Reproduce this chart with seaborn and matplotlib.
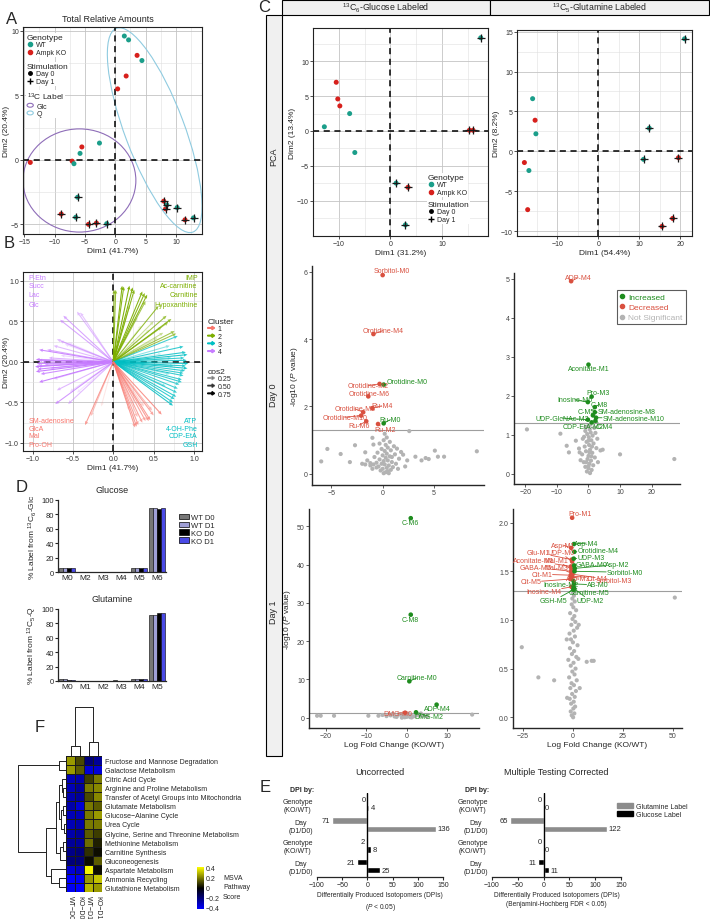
import numpy as np
import pandas as pd
import seaborn as sns
import matplotlib.pyplot as plt
import matplotlib.patches as mpatches
from matplotlib.lines import Line2D
from matplotlib.legend_handler import HandlerPatch
from matplotlib.colors import LinearSegmentedColormap, to_rgba
from matplotlib.transforms import Affine2D

sns.set_style("ticks")
plt.rcParams['font.family'] = ['Liberation Sans', 'DejaVu Sans']
plt.rcParams['mathtext.fontset'] = 'custom'
plt.rcParams['mathtext.rm'] = 'Liberation Sans'
plt.rcParams['mathtext.it'] = 'Liberation Sans:italic'
plt.rcParams['mathtext.bf'] = 'Liberation Sans:bold'

# ---------------- data ----------------
TEAL, RED = '#1b9e8a', '#d7201c'
geno_pal = {'WT': TEAL, 'Ampk KO': RED}

# A: total relative amounts PCA
a_x = [1.5, 2.2, 3.6, 4.4, 1.8, 0.4, -2.6, -5.5, -5.8, -7.1, -6.8, -14.0,
       -6.2, -8.9, -6.5, -4.4, -3.1, -1.4, 8.0, 8.3, 8.5, 10.2, 11.5, 12.9]
a_y = [9.6, 9.3, 8.1, 7.7, 6.5, 5.5, 1.3, 1.0, 0.5, -0.1, -0.3, -0.2,
       -2.9, -4.2, -4.45, -5.0, -4.9, -4.95, -3.2, -3.8, -3.5, -3.7, -4.65, -4.5]
a_geno = ['WT', 'WT', 'Ampk KO', 'WT', 'Ampk KO', 'Ampk KO', 'WT', 'Ampk KO', 'WT', 'Ampk KO', 'WT', 'Ampk KO',
          'WT', 'Ampk KO', 'WT', 'Ampk KO', 'Ampk KO', 'WT', 'Ampk KO', 'Ampk KO', 'WT', 'WT', 'Ampk KO', 'WT']
a_day = ['Day 0'] * 12 + ['Day 1'] * 12
# ellipses: centre, two semi-axis vectors (data units)
ell_glc = ((-5.9, -1.6), (9.3, 0.0), (0.0, 4.0))
ell_q = ((6.5, 2.3), (6.3, -7.9), (4.6, 0.8))

# B: variable loadings
b_x = [-0.45, -0.41, -0.62, -0.66, -0.70, -0.66, -0.60, -0.74, -0.56, -0.82, -0.92, -0.96, -0.93, -0.95, -0.97,
       -0.94, -0.96, -0.93, -0.88, -0.85, -0.80, -0.78, -0.90, -0.92, -0.74, -0.70, -0.54, -0.72, -0.56, -0.45,
       -0.65, -0.60, -0.55,
       0.01, 0.03, 0.11, 0.13, 0.20, 0.24, 0.26, 0.36, 0.39, 0.42, 0.40, 0.56, 0.66, 0.72, 0.68, 0.60, 0.76, 0.78,
       0.62, 0.50, 0.45, 0.30, 0.20, 0.55, 0.35,
       0.80, 0.87, 0.90, 0.92, 0.88, 0.91, 0.93, 0.90, 0.92, 0.89, 0.87, 0.87, 0.85, 0.85, 0.82, 0.80, 0.79, 0.78,
       0.76, 0.74, 0.74, 0.70, 0.72, 0.75, 0.70, 0.65, 0.60,
       -0.35, -0.28, 0.27, 0.29, 0.31, 0.36, 0.40, 0.44, 0.46, 0.50, 0.60, 0.48, 0.30, 0.20, -0.15, 0.38, 0.25]
b_y = [0.62, 0.61, 0.57, 0.52, 0.28, 0.26, 0.22, 0.20, 0.24, 0.15, 0.15, 0.03, 0.02, -0.02, -0.06,
       -0.09, -0.12, -0.05, 0.0, -0.03, 0.05, -0.08, -0.15, -0.25, -0.21, -0.35, -0.37, -0.52, -0.52, -0.38,
       0.08, 0.0, -0.1,
       0.89, 0.89, 0.94, 0.93, 0.94, 0.92, 0.89, 0.87, 0.85, 0.83, 0.75, 0.69, 0.57, 0.53, 0.49, 0.43, 0.38, 0.35,
       0.36, 0.50, 0.40, 0.55, 0.70, 0.30, 0.45,
       0.32, 0.19, 0.12, 0.09, 0.05, 0.02, -0.02, -0.05, -0.08, -0.11, -0.14, -0.17, -0.22, -0.25, -0.28, -0.33,
       -0.38, -0.43, -0.46, -0.50, -0.54, 0.20, 0.05, -0.05, -0.15, -0.30, 0.10,
       -0.78, -0.67, -0.81, -0.80, -0.78, -0.75, -0.73, -0.73, -0.72, -0.66, -0.65, -0.60, -0.68, -0.60, -0.55,
       -0.55, -0.50]
b_cluster = ['4'] * 33 + ['2'] * 25 + ['3'] * 27 + ['1'] * 17
cluster_pal = {'1': '#F8766D', '2': '#7CAE00', '3': '#00BFC4', '4': '#C77CFF'}
b_labels_tl = ['P-Etn', 'Succ', 'Lac', 'Glc']
b_labels_tr = ['IMP', 'Ac-carnitine', 'Carnitine', 'Hypoxanthine']
b_labels_bl = ['SM-adenosine', 'GlcA', 'Mal', 'Pro-OH']
b_labels_br = ['ATP', '4-OH-Phe', 'CDP-EtA', 'GSH']

# C: PCA per label
cg_x = [-12.8, -10.5, -10.2, -9.8, -7.9, -6.9, 17.5, 1.1, 2.9, 3.4, 15.3, 16.0]
cg_y = [0.6, 7.0, 4.6, 3.6, 2.5, -3.1, 13.4, -7.5, -13.5, -8.1, 0.1, 0.1]
cg_geno = ['WT', 'Ampk KO', 'Ampk KO', 'Ampk KO', 'WT', 'WT', 'WT', 'WT', 'WT', 'Ampk KO', 'Ampk KO', 'Ampk KO']
cq_x = [-16.0, -15.4, -15.2, -18.0, -16.9, -17.2, 21.0, 12.4, 11.0, 19.5, 15.5, 18.1]
cq_y = [6.6, 3.9, 2.2, -1.4, -2.4, -7.3, 14.1, 2.9, -1.0, -0.8, -9.4, -8.4]
cq_geno = ['WT', 'Ampk KO', 'WT', 'Ampk KO', 'WT', 'Ampk KO', 'WT', 'WT', 'WT', 'Ampk KO', 'Ampk KO', 'Ampk KO']
c_day = ['Day 0'] * 6 + ['Day 1'] * 6

# C: volcano plots (not significant)
v0g_x = [-6.0, -5.4, -4.1, -3.2, -2.7, -1.7, -1.0, -0.9, 0.2, 2.6, 2.0, 2.4, 3.2, 3.8, 4.2, 4.5, 5.1, 5.4, 6.0, 9.2,
         -2.0, -1.7, -1.2, -0.9, -0.6,
         0.1, 0.3, 0.5, -0.2, 0.8, 0.0, 0.4, 1.0, -0.4, 0.6, 0.2, 1.3, -0.6, 0.9, 0.1, 0.5, -0.3, 1.6, 0.3, -0.8,
         0.7, 0.0, 1.2, 0.4, -0.5, 1.8, 0.2, 0.8, -0.1, 0.5, 1.1, 0.3, -0.3, 0.7, 0.1, 0.4, -1.2, -1.5, 1.5, 2.2,
         -1.0, 0.6, -0.1, 0.9, 1.4]
v0g_y = [0.37, 0.74, 0.59, 0.35, 0.85, 0.64, 1.07, 0.87, 1.19, 1.27, 0.57, 0.40, 0.51, 0.40, 0.47, 0.44, 0.69, 0.51,
         0.51, 0.67, 0.30, 0.28, 0.32, 0.28, 0.19,
         0.02, 0.05, 0.08, 0.10, 0.12, 0.15, 0.18, 0.20, 0.22, 0.25, 0.28, 0.30, 0.33, 0.35, 0.38, 0.40, 0.43, 0.45,
         0.48, 0.50, 0.52, 0.55, 0.58, 0.60, 0.63, 0.65, 0.68, 0.70, 0.74, 0.78, 0.82, 0.86, 0.90, 0.95, 1.00, 1.08,
         0.25, 0.40, 0.15, 0.22, 0.15, 0.02, 0.30, 0.50, 0.75]
v0q_x = [0.5, -0.5, 1.0, 0.0, -1.0, 1.5, 0.3, -1.5, 0.8, -0.3, 2.0, 0.0, -2.0, 1.2, -0.8, 0.5, 2.5, -1.2, 0.2, 1.6,
         -0.6, 0.9, -1.8, 0.1, 1.3, -0.4, 0.7, -1.0, 0.4, 1.8, -0.2, 0.6, -2.5, 3.0, -3.0, 2.8, 0.0, 0.9, -0.7, 1.1,
         0.3, -1.4, 2.2, 0.0, -0.9,
         -19.5, -8.9, -6.9, -6.2, -2.8, 3.8, 10.0, 27.2, 4.5, -4.0]
v0q_y = [0.02, 0.06, 0.10, 0.14, 0.18, 0.22, 0.26, 0.30, 0.34, 0.38, 0.42, 0.46, 0.50, 0.54, 0.58, 0.62, 0.66, 0.70,
         0.74, 0.78, 0.82, 0.86, 0.90, 0.94, 0.98, 1.02, 1.06, 1.10, 1.14, 1.18, 1.22, 1.26, 0.35, 0.30, 0.65, 0.90,
         0.20, 0.45, 0.30, 0.70, 0.55, 0.95, 1.05, 0.85, 1.20,
         1.14, 1.03, 0.72, 0.55, 0.55, 0.60, 0.50, 0.38, 0.62, 0.85]
v1g_x = [-22.2, -21.3, -18.0, -9.5, -7.0, -5.0, -4.0, -3.0, -2.0, -1.0, 0.0, 1.0, 2.0, 3.0, 0.5, -0.5, 1.5, -1.5,
         4.0, -2.5, 2.5, 0.2, -0.8, 0.8, 16.2, 5.0, -6.0, -3.5, 3.5, 0.0, -1.2, 1.2]
v1g_y = [0.5, 0.5, 0.5, 0.5, 0.5, 0.4, 0.6, 0.3, 0.8, 0.5, 0.2, 0.7, 0.4, 0.6, 1.0, 0.1, 0.3, 0.9, 0.5, 0.2, 0.9,
         0.6, 0.35, 0.15, 0.8, 0.3, 0.7, 1.0, 1.1, 0.9, 0.0, 0.05]
v1q_x = [0.2, -0.5, 0.8, -1.0, 0.3, 1.2, -0.8, 0.5, -1.5, 1.0, -0.3, 1.6, -1.2, 0.6, -0.6, 2.0, -1.8, 0.9, -0.2,
         1.4, -1.0, 0.4, -2.2, 1.8, -0.4, 0.7, -1.4, 2.4, 0.1, -0.9, 1.1, -1.6, 0.5, 2.2, -0.7, 1.3, -0.1, 0.8,
         -1.3, 1.7, 0.3, -0.5, 1.0, -0.2, 0.6, 0.1,
         -25.5, -17.2, -9.3, 7.0, 9.5, 10.5, 51.1, 3.0, 2.8, -3.0, 3.5, -2.8]
v1q_y = [0.00, 0.02, 0.04, 0.06, 0.09, 0.11, 0.14, 0.16, 0.19, 0.21, 0.24, 0.27, 0.30, 0.33, 0.35, 0.38, 0.41,
         0.44, 0.47, 0.50, 0.53, 0.56, 0.59, 0.62, 0.65, 0.68, 0.71, 0.74, 0.77, 0.80, 0.83, 0.86, 0.89, 0.92,
         0.95, 0.98, 1.01, 1.04, 1.07, 1.10, 1.13, 1.16, 1.19, 1.22, 1.25, 1.28,
         0.72, 0.41, 0.38, 0.57, 0.58, 0.58, 1.23, 0.95, 0.60, 0.80, 0.30, 0.20]

# C: volcano plots (significant isotopomers)
s0g_name = ['Sorbitol-M0', 'Orotidine-M4', 'Orotidine-M2', 'Orotidine-M0', 'Orotidine-M6', 'Ru-M4',
            'Orotidine-M8', 'Orotidine-M10', 'Ru-M6', 'Ru-M2', 'Ru-M0']
s0g_x = [0.0, -0.9, -0.3, 0.1, -1.4, -1.0, -1.9, -2.1, -1.6, -0.45, 0.1]
s0g_y = [5.9, 4.15, 2.67, 2.65, 2.3, 1.95, 1.83, 1.73, 1.56, 1.48, 1.5]
s0g_dir = ['Decreased'] * 3 + ['Increased'] + ['Decreased'] * 6 + ['Increased']
s0q_name = ['ADP-M4', 'Aconitate-M1', 'Pro-M3', 'Inosine-M6', 'C-M8', 'C-M5', 'SM-adenosine-M8',
            'UDP-GlcNAc-M2', 'SM-adenosine-M10', 'CDP-EtA-M2', 'C-M4']
s0q_x = [-5.5, 0.0, 1.0, -0.2, 2.0, 1.4, 2.0, -0.2, 2.4, 1.0, 2.2]
s0q_y = [4.94, 2.8, 1.98, 1.84, 1.71, 1.5, 1.58, 1.39, 1.44, 1.32, 1.36]
s0q_dir = ['Decreased'] + ['Increased'] * 10
s1g_name = ['C-M6', 'C-M8', 'Carnitine-M0', 'ADP-M4', 'DMG-M2', 'DMG-M0']
s1g_x = [1.0, 1.0, 0.65, 7.4, 2.3, -0.4]
s1g_y = [52.1, 26.9, 9.5, 3.4, 1.4, 1.3]
s1g_dir = ['Increased'] * 5 + ['Decreased']
s1q_name = ['Pro-M1', 'Asp-M1', 'Glu-M1', 'UDP-M0', 'Aconitate-M1', 'Mal-M1', 'GABA-M5', 'Mal-M3', 'Cit-M1',
            'Asp-M3', 'Cit-M5', 'Cit-M4', 'Sorbitol-M3', 'Inosine-M4',
            'Asp-M4', 'Orotidine-M4', 'UDP-M3', 'GABA-M0', 'Asp-M2', 'Sorbitol-M0', 'Inosine-M2', 'AB-M0',
            'Carnitine-M5', 'GSH-M5', 'UDP-M2']
s1q_x = [-0.3, -0.8, -0.5, -0.3, -0.9, -0.6, -0.7, -0.4, -1.0, -0.5, -1.2, -0.3, -0.2, -0.6,
         0.6, 0.8, 0.5, 0.7, 1.0, 0.9, 0.4, 0.6, 0.5, 0.3, 0.8]
s1q_y = [2.05, 1.74, 1.62, 1.60, 1.55, 1.52, 1.50, 1.48, 1.46, 1.44, 1.42, 1.45, 1.47, 1.34,
         1.78, 1.70, 1.63, 1.56, 1.53, 1.50, 1.40, 1.37, 1.33, 1.31, 1.32]
s1q_dir = ['Decreased'] * 14 + ['Increased'] * 11

# label placement (repel-style offsets)
l0g = [(0.9, 6.03), (0.0, 4.25), (-1.4, 2.62), (2.4, 2.74), (-1.3, 2.39), (-0.1, 2.02), (-2.7, 1.93),
       (-3.7, 1.68), (-2.3, 1.45), (0.2, 1.31), (0.75, 1.61)]
l0q = [(-3.3, 5.03), (0.1, 2.71), (3.1, 2.08), (-4.3, 1.9), (3.4, 1.78), (-0.7, 1.6), (12.1, 1.6),
       (-8.4, 1.43), (14.2, 1.43), (-1.8, 1.22), (5.0, 1.22)]
l1g = [(0.8, 51.0), (0.8, 25.7), (2.5, 10.4), (7.7, 2.4), (5.4, 0.4), (-2.2, 1.2)]
l1q = [(3.4, 2.09), (-5.0, 1.77), (-17.0, 1.69), (-6.0, 1.69), (-19.5, 1.61), (-8.0, 1.61), (-18.5, 1.54),
       (-8.0, 1.54), (-15.5, 1.47), (3.0, 1.43), (-21.0, 1.39), (12.0, 1.43), (20.5, 1.41), (-14.5, 1.29),
       (6.7, 1.79), (12.5, 1.71), (9.0, 1.64), (9.5, 1.57), (22.5, 1.57), (26.0, 1.49), (-6.0, 1.36),
       (12.5, 1.36), (8.0, 1.28), (-9.5, 1.20), (8.5, 1.20)]
dir_pal = {'Increased': '#1e8c1e', 'Decreased': '#d9503f', 'Not Significant': '#b3b3b3'}

# D: label incorporation
d_glc_iso = ['M0', 'M2', 'M3', 'M4', 'M5', 'M6']
d_glc = {'WT D0': [5, 0.3, 0.2, 0.2, 5, 89], 'WT D1': [5, 0.3, 0.2, 0.2, 5, 89],
         'KO D0': [5.5, 0.3, 0.2, 0.2, 5.5, 88], 'KO D1': [5, 0.3, 0.2, 0.2, 5, 89]}
d_gln_iso = ['M0', 'M1', 'M2', 'M3', 'M4', 'M5']
d_gln = {'WT D0': [3, 0.5, 0.2, 0.8, 2.5, 92], 'WT D1': [2.5, 0.3, 0.2, 0.5, 2.5, 92],
         'KO D0': [1.5, 0.3, 0.2, 0.5, 2.5, 94], 'KO D1': [1.5, 0.3, 0.2, 0.5, 2.5, 94]}
d_pal = {'WT D0': '#777777', 'WT D1': '#9f9fd6', 'KO D0': '#000000', 'KO D1': '#4a4ae6'}

# E: differentially produced isotopomers
e_groups = ['Genotype\n(KO/WT)', 'Day\n(D1/D0)', 'Genotype\n(KO/WT)', 'Day\n(D1/D0)']
e_label = ['Glutamine Label', 'Glutamine Label', 'Glucose Label', 'Glucose Label']
e_unc_down = [0, 71, 2, 21]
e_unc_up = [4, 136, 8, 25]
e_cor_down = [0, 65, 0, 11]
e_cor_up = [0, 122, 0, 11]
e_pal = {'Glutamine Label': '#8c8c8c', 'Glucose Label': '#000000'}

# F: MSVA pathway scores
f_paths = ['Fructose and Mannose Degradation', 'Galactose Metabolism', 'Citric Acid Cycle',
           'Arginine and Proline Metabolism', 'Transfer of Acetyl Groups into Mitochondria',
           'Glutamate Metabolism', 'Glucose\u2212Alanine Cycle', 'Urea Cycle',
           'Glycine, Serine and Threonine Metabolism', 'Methionine Metabolism', 'Carnitine Synthesis',
           'Gluconeogenesis', 'Aspartate Metabolism', 'Ammonia Recycling', 'Glutathione Metabolism']
f_cols = ['WT\u2212D0', 'KO\u2212D0', 'WT\u2212D1', 'KO\u2212D1']
f_wt_d0 = [0.25, 0.25, -0.30, -0.30, -0.28, -0.28, -0.30, -0.30, -0.28, -0.25, -0.22, -0.20, -0.35, -0.42, -0.40]
f_ko_d0 = [0.12, 0.15, -0.28, -0.25, -0.25, -0.35, -0.30, -0.28, -0.25, -0.25, -0.20, -0.20, -0.32, -0.40, -0.42]
f_wt_d1 = [-0.20, -0.35, 0.10, 0.20, 0.12, 0.20, 0.20, 0.20, 0.15, 0.18, 0.08, 0.02, 0.40, 0.25, 0.30]
f_ko_d1 = [-0.25, -0.35, 0.20, 0.22, 0.22, 0.15, 0.25, 0.20, 0.10, 0.05, 0.02, 0.15, 0.02, 0.32, 0.25]
# dendrogram merges: (child a, child b, height)
f_row_tree = [(3, 4, 2.5), (2, 15, 4), (5, 6, 3), (7, 8, 2), (17, 18, 5), (16, 19, 7), (9, 10, 3),
              (21, 11, 5.5), (20, 22, 10), (13, 14, 6.5), (12, 24, 15), (23, 25, 20), (0, 1, 6.5),
              (27, 26, 48)]
f_col_tree = [(0, 1, 10), (2, 3, 14), (4, 5, 48)]

# ---------------- figure ----------------
W, H = 710, 920
fig = plt.figure(figsize=(7.1, 9.2), dpi=100)


def fpt(x, y):
    return (x / W, 1 - y / H)


def px_ax(l, t, r, b):
    return fig.add_axes([l / W, 1 - b / H, (r - l) / W, (b - t) / H])


def ftext(x, y, s, **kw):
    fig.text(x / W, 1 - y / H, s, **kw)


def frect(l, t, r, b, fc='none'):
    fig.add_artist(mpatches.Rectangle(fpt(l, b), (r - l) / W, (b - t) / H, transform=fig.transFigure,
                                      fc=fc, ec='black', lw=0.8))


def ellipse_handle(legend, orig_handle, xdescent, ydescent, width, height, fontsize):
    return mpatches.Ellipse((width / 2 - xdescent, height / 2 - ydescent), width * 0.9, height * 0.8)


def arrow_handle(legend, orig_handle, xdescent, ydescent, width, height, fontsize):
    return mpatches.FancyArrow(-xdescent, height / 2 - ydescent, width, 0, width=0.5, head_width=height * 0.7,
                               head_length=height * 0.55, length_includes_head=True)


def section_legend(handles, labels, title, x, y, hmap=None, bg=True):
    leg = fig.legend(handles, labels, title=title, loc='upper left', bbox_to_anchor=fpt(x, y),
                     fontsize=5, title_fontsize=6, alignment='left', handlelength=1.0, handletextpad=0.4,
                     labelspacing=0.1, borderpad=0.1, borderaxespad=0, frameon=bg, fancybox=False,
                     handler_map=hmap)
    if bg:
        leg.get_frame().set_edgecolor('none')
        leg.get_frame().set_facecolor('white')
        leg.get_frame().set_alpha(1)
    return leg


def pca_style(ax, xlim, ylim, xmaj, xmin, ymaj, ymin):
    ax.set_xlim(xlim)
    ax.set_ylim(ylim)
    ax.set_xticks(xmaj)
    ax.set_xticks(xmin, minor=True)
    ax.set_yticks(ymaj)
    ax.set_yticks(ymin, minor=True)
    ax.grid(which='major', color='#c4c4c4', lw=0.6)
    ax.grid(which='minor', color='#e0e0e0', lw=0.4)
    ax.set_axisbelow(True)
    ax.tick_params(which='minor', length=0)
    ax.tick_params(which='major', labelsize=5, length=2, width=0.6, pad=1, colors='#333333')
    ax.axhline(0, color='black', ls=(0, (4, 3)), lw=1.1, zorder=2)
    ax.axvline(0, color='black', ls=(0, (4, 3)), lw=1.1, zorder=2)
    for s in ax.spines.values():
        s.set_color('#222222')
        s.set_linewidth(0.8)


def pca_points(ax, xs, ys, genos, days):
    df = pd.DataFrame({'x': xs, 'y': ys, 'Genotype': genos, 'Stimulation': days})
    sns.scatterplot(data=df, x='x', y='y', hue='Genotype', palette=geno_pal, s=13, edgecolor='none',
                    legend=False, ax=ax, zorder=3)
    d1 = df[df['Stimulation'] == 'Day 1']
    sns.scatterplot(data=d1, x='x', y='y', marker='+', color='#1a1a1a', s=28, linewidth=0.9,
                    legend=False, ax=ax, zorder=4)
    ax.set_xlabel('')
    ax.set_ylabel('')


# ---- Panel A ----
axA = px_ax(23, 28, 202, 235)
pca_points(axA, a_x, a_y, a_geno, a_day)
for (c, u, v), col in ((ell_glc, '#8e6db8'), (ell_q, '#8fcbe0')):
    tr = Affine2D(np.array([[u[0], v[0], c[0]], [u[1], v[1], c[1]], [0, 0, 1]])) + axA.transData
    axA.add_patch(mpatches.Circle((0, 0), 1, transform=tr, fill=False, ec=col, lw=0.8, zorder=2))
pca_style(axA, (-15.2, 14.3), (-5.75, 10.3), [-15, -10, -5, 0, 5, 10], [-12.5, -7.5, -2.5, 2.5, 7.5, 12.5],
          [-5, 0, 5, 10], [-2.5, 2.5, 7.5])
axA.set_xlabel('Dim1 (41.7%)', fontsize=6, labelpad=1)
axA.set_ylabel('Dim2 (20.4%)', fontsize=6)
axA.yaxis.set_label_coords(-0.075, 0.5)
ftext(6, 20, 'A', fontsize=12, va='center')
ftext(108, 19, 'Total Relative Amounts', fontsize=6.5, ha='center', va='center')
geno_handles = [Line2D([], [], marker='o', ls='', color=geno_pal[g], markersize=3) for g in geno_pal]
stim_handles = [Line2D([], [], marker='o', ls='', color='black', markersize=2.5),
                Line2D([], [], marker='+', ls='', color='black', markersize=5, mew=1)]
la1 = section_legend(geno_handles, list(geno_pal), 'Genotype', 26, 34)
la2 = section_legend(stim_handles, ['Day 0', 'Day 1'], 'Stimulation', 26, 63)
la3 = section_legend([mpatches.Patch(fc='none', ec='#8e6db8', lw=0.8), mpatches.Patch(fc='none', ec='#8fcbe0', lw=0.8)],
                     ['Glc', 'Q'], r'$^{13}$C Label', 26, 91, hmap={mpatches.Patch: HandlerPatch(patch_func=ellipse_handle)})

# ---- Panel B ----
axB = px_ax(23, 273, 202, 452)
bx, by = np.array(b_x), np.array(b_y)
cos2 = bx ** 2 + by ** 2
b_alpha = 0.15 + 0.85 * (cos2 - cos2.min()) / (cos2.max() - cos2.min())
b_rgba = [to_rgba(cluster_pal[c], a) for c, a in zip(b_cluster, b_alpha)]
axB.quiver(np.zeros(len(bx)), np.zeros(len(bx)), bx, by, color=b_rgba, angles='xy', scale_units='xy', scale=1,
           width=0.006, headwidth=3.2, headlength=3.6, headaxislength=3.2, zorder=3)
pca_style(axB, (-1.12, 1.1), (-1.1, 1.11), [-1.0, -0.5, 0.0, 0.5, 1.0], [-0.75, -0.25, 0.25, 0.75],
          [-1.0, -0.5, 0.0, 0.5, 1.0], [-0.75, -0.25, 0.25, 0.75])
axB.set_xlabel('Dim1 (41.7%)', fontsize=6, labelpad=1)
axB.set_ylabel('Dim2 (20.4%)', fontsize=6)
axB.yaxis.set_label_coords(-0.075, 0.5)
for i, yy in enumerate([0.972, 0.922, 0.872, 0.821]):
    axB.text(0.03, yy, b_labels_tl[i], transform=axB.transAxes, color=cluster_pal['4'], fontsize=5, va='center')
    axB.text(0.975, yy, b_labels_tr[i], transform=axB.transAxes, color=cluster_pal['2'], fontsize=5, va='center', ha='right')
for i, yy in enumerate([0.173, 0.128, 0.084, 0.039]):
    axB.text(0.03, yy, b_labels_bl[i], transform=axB.transAxes, color=cluster_pal['1'], fontsize=5, va='center')
    axB.text(0.975, yy, b_labels_br[i], transform=axB.transAxes, color=cluster_pal['3'], fontsize=5, va='center', ha='right')
ftext(4, 243, 'B', fontsize=12, va='center')
arrow_map = {mpatches.Patch: HandlerPatch(patch_func=arrow_handle)}
section_legend([mpatches.Patch(color=cluster_pal[k]) for k in ['1', '2', '3', '4']], ['1', '2', '3', '4'],
               'Cluster', 207, 318, hmap=arrow_map, bg=False)
section_legend([mpatches.Patch(color=to_rgba('black', a)) for a in (0.3, 0.6, 0.95)], ['0.25', '0.50', '0.75'],
               'cos2', 207, 368, hmap=arrow_map, bg=False)

# ---- Panel D ----
def label_bars(ax, iso, values, title, ylab):
    rows = []
    for grp, vals in values.items():
        for m, v in zip(iso, vals):
            rows.append({'iso': m, 'group': grp, 'pct': v})
    df = pd.DataFrame(rows)
    sns.barplot(data=df, x='iso', y='pct', hue='group', order=iso, hue_order=list(d_pal), palette=d_pal,
                saturation=1, edgecolor='black', linewidth=0.4, width=0.85, legend=False, ax=ax)
    ax.set_ylim(0, 100)
    ax.set_xlim(-0.5, 5.5)
    ax.set_yticks([0, 20, 40, 60, 80, 100])
    ax.tick_params(axis='y', labelsize=5.5, length=2, width=0.8, pad=1)
    ax.tick_params(axis='x', labelsize=6, length=0, pad=1.5)
    sns.despine(ax=ax)
    for s in ('left', 'bottom'):
        ax.spines[s].set_linewidth(0.9)
    ax.set_xlabel('')
    ax.set_ylabel(ylab, fontsize=6, labelpad=2)
    ax.set_title(title, fontsize=6.5, pad=6)


axD1 = px_ax(58, 501, 166, 573)
label_bars(axD1, d_glc_iso, d_glc, 'Glucose', r'% Label from $^{13}$C$_6$-Glc')
axD2 = px_ax(58, 610, 166, 682)
label_bars(axD2, d_gln_iso, d_gln, 'Glutamine', r'% Label from $^{13}$C$_5$-Q')
ftext(16, 488, 'D', fontsize=12, va='center')
fig.legend([mpatches.Patch(fc=d_pal[k], ec='black', lw=0.5) for k in d_pal], list(d_pal), loc='upper left',
           bbox_to_anchor=fpt(179, 515), fontsize=5.5, frameon=False, handlelength=1.3, handleheight=0.7,
           handletextpad=0.3, labelspacing=0.05, borderpad=0, borderaxespad=0)

# ---- Panel F ----
f_df = pd.DataFrame({f_cols[0]: f_wt_d0, f_cols[1]: f_ko_d0, f_cols[2]: f_wt_d1, f_cols[3]: f_ko_d1}, index=f_paths)
axF = px_ax(66, 757, 102, 893)
caxF = px_ax(197, 868, 204, 910)
msva_cmap = LinearSegmentedColormap.from_list('msva', ['#0000ff', '#000000', '#ffff00'])
sns.heatmap(f_df, ax=axF, cbar_ax=caxF, cmap=msva_cmap, vmin=-0.42, vmax=0.42, linewidths=0.4,
            linecolor='#1a1a1a', xticklabels=True, yticklabels=True)
axF.yaxis.tick_right()
axF.tick_params(axis='y', length=0, pad=2, labelsize=5, labelrotation=0)
axF.tick_params(axis='x', length=0, pad=2, labelsize=5, labelrotation=-90)
for t in axF.get_yticklabels():
    t.set_ha('left')
axF.set_xlabel('')
axF.set_ylabel('')
caxF.set_yticks([0.4, 0.2, 0, -0.2, -0.4])
caxF.set_yticklabels(['0.4', '0.2', '0', '\u22120.2', '\u22120.4'])
caxF.tick_params(labelsize=5, length=0, pad=1.5)
ftext(223, 888, 'MSVA\nPathway\nScore', fontsize=5, va='center', linespacing=1.5)
ftext(35, 727, 'F', fontsize=12, va='center')


def dendro_segments(merges, n):
    pos = {i: i + 0.5 for i in range(n)}
    hgt = {i: 0.0 for i in range(n)}
    segs = []
    for k, (a, b, h) in enumerate(merges):
        segs.append(([pos[a], pos[a], pos[b], pos[b]], [hgt[a], h, h, hgt[b]]))
        pos[n + k] = (pos[a] + pos[b]) / 2
        hgt[n + k] = h
    return segs


axFc = px_ax(66, 707, 102, 757)
for xs, hs in dendro_segments(f_col_tree, 4):
    axFc.plot(xs, hs, color='#222222', lw=0.7)
axFc.set_xlim(0, 4)
axFc.set_ylim(0, 48.5)
axFc.axis('off')
axFr = px_ax(17, 757, 66, 893)
for ys, hs in dendro_segments(f_row_tree, 15):
    axFr.plot(hs, ys, color='#222222', lw=0.7)
axFr.set_ylim(15, 0)
axFr.set_xlim(48.5, 0)
axFr.axis('off')

# ---- Panel C frame ----
frect(282, 1, 490, 16, fc='#f0f0f0')
frect(490, 1, 709, 16, fc='#f0f0f0')
frect(266, 16, 282, 757, fc='#f0f0f0')
ftext(386, 8.5, r'$^{13}$C$_6$-Glucose Labeled', fontsize=6.3, ha='center', va='center')
ftext(600, 8.5, r'$^{13}$C$_5$-Glutamine Labeled', fontsize=6.3, ha='center', va='center')
ftext(274, 157, 'PCA', fontsize=6.5, rotation=90, ha='center', va='center')
ftext(274, 395, 'Day 0', fontsize=6.5, rotation=90, ha='center', va='center')
ftext(274, 612, 'Day 1', fontsize=6.5, rotation=90, ha='center', va='center')
ftext(258, 8, 'C', fontsize=12, va='center')

axCg = px_ax(313, 29, 488, 237)
pca_points(axCg, cg_x, cg_y, cg_geno, c_day)
pca_style(axCg, (-14.2, 18.9), (-15.1, 14.8), [-10, 0, 10], [-15, -5, 5, 15], [-10, -5, 0, 5, 10],
          [-12.5, -7.5, -2.5, 2.5, 7.5, 12.5])
axCg.set_xlabel('Dim1 (31.2%)', fontsize=6, labelpad=1)
axCg.set_ylabel('Dim2 (13.4%)', fontsize=6, labelpad=1)
section_legend(geno_handles, list(geno_pal), 'Genotype', 427, 174)
section_legend(stim_handles, ['Day 0', 'Day 1'], 'Stimulation', 427, 201)

axCq = px_ax(517, 31, 692, 237)
pca_points(axCq, cq_x, cq_y, cq_geno, c_day)
pca_style(axCq, (-19.8, 22.8), (-10.6, 15.2), [-10, 0, 10, 20], [-15, -5, 5, 15], [-10, -5, 0, 5, 10, 15],
          [-7.5, -2.5, 2.5, 7.5, 12.5])
axCq.set_xlabel('Dim1 (54.4%)', fontsize=6, labelpad=1)
axCq.set_ylabel('Dim2 (8.2%)', fontsize=6, labelpad=1)


def volcano(ax, nx, ny, names, sx, sy, sdir, lpos, xlim, ylim, xt, yt):
    ns = pd.DataFrame({'x': nx, 'y': ny})
    sns.scatterplot(data=ns, x='x', y='y', color=dir_pal['Not Significant'], s=9, edgecolor='none',
                    legend=False, ax=ax, zorder=2)
    sig = pd.DataFrame({'x': sx, 'y': sy, 'dir': sdir})
    sns.scatterplot(data=sig, x='x', y='y', hue='dir', palette=dir_pal, s=11, edgecolor='none',
                    legend=False, ax=ax, zorder=4)
    for name, x, y, d, (tx, ty) in zip(names, sx, sy, sdir, lpos):
        ax.annotate(name, xy=(x, y), xytext=(tx, ty), fontsize=5, color=dir_pal[d], ha='center', va='center',
                    bbox=dict(boxstyle='square,pad=0.05', fc='none', ec='none'),
                    arrowprops=dict(arrowstyle='-', color=dir_pal[d], lw=0.6, shrinkA=0, shrinkB=1), zorder=5)
    ax.axhline(-np.log10(0.05), color='#9e9e9e', lw=0.8, zorder=1)
    ax.set_xlim(xlim)
    ax.set_ylim(ylim)
    ax.set_xticks(xt)
    ax.set_yticks(yt)
    sns.despine(ax=ax)
    for s in ('left', 'bottom'):
        ax.spines[s].set_linewidth(1.0)
    ax.tick_params(labelsize=5, length=2, width=0.6, pad=1, colors='#444444')
    ax.set_xlabel('')
    ax.set_ylabel('')


pval_lab = r'-log10 ($\it{P}$ value)'
axV0g = px_ax(312, 267, 484, 486)
volcano(axV0g, v0g_x, v0g_y, s0g_name, s0g_x, s0g_y, s0g_dir, l0g, (-6.9, 9.9), (-0.33, 6.17),
        [-5, 0, 5], [0, 2, 4, 6])
axV0g.set_ylabel(pval_lab, fontsize=6, labelpad=3)
axV0q = px_ax(514, 274, 680, 485)
volcano(axV0q, v0q_x, v0q_y, s0q_name, s0q_x, s0q_y, s0q_dir, l0q, (-23.6, 29), (-0.26, 5.15),
        [-20, -10, 0, 10, 20], [0, 1, 2, 3, 4, 5])
leg = axV0q.legend([Line2D([], [], marker='o', ls='', color=dir_pal[k], markersize=3) for k in dir_pal],
                   list(dir_pal), loc='upper left', bbox_to_anchor=fpt(617, 291), bbox_transform=fig.transFigure,
                   fontsize=6, frameon=True, fancybox=False, handlelength=0.6, handletextpad=0.4,
                   borderpad=0.35, labelspacing=0.3, borderaxespad=0)
leg.get_frame().set_edgecolor('#333333')
leg.get_frame().set_linewidth(0.8)
for t, k in zip(leg.get_texts(), dir_pal):
    t.set_color(dir_pal[k])

axV1g = px_ax(309, 510, 479, 729)
volcano(axV1g, v1g_x, v1g_y, s1g_name, s1g_x, s1g_y, s1g_dir, l1g, (-24.2, 17.9), (-2.7, 54.5),
        [-20, -10, 0, 10], [0, 10, 20, 30, 40, 50])
axV1g.set_ylabel(pval_lab, fontsize=6, labelpad=3)
axV1g.set_xlabel('Log Fold Change (KO/WT)', fontsize=6, labelpad=1)
axV1q = px_ax(513, 510, 682, 729)
volcano(axV1q, v1q_x, v1q_y, s1q_name, s1q_x, s1q_y, s1q_dir, l1q, (-29.9, 54.7), (-0.11, 2.14),
        [-25, 0, 25, 50], [0.0, 0.5, 1.0, 1.5, 2.0])
axV1q.set_xlabel('Log Fold Change (KO/WT)', fontsize=6, labelpad=1)

# ---- Panel E ----
def dpi_panel(ax, down, up, title, xlab):
    ypos = np.arange(len(e_groups))
    cols = [e_pal[l] for l in e_label]
    ax.barh(ypos - 0.2, [-d for d in down], height=0.3, color=cols)
    ax.barh(ypos + 0.2, up, height=0.3, color=cols)
    for i in range(len(e_groups)):
        ax.text(-down[i] - 3, ypos[i] - 0.2, str(down[i]), fontsize=5.5, ha='right', va='center')
        ax.text(up[i] + 3, ypos[i] + 0.2, str(up[i]), fontsize=5.5, ha='left', va='center')
    ax.axvline(0, color='black', lw=1.0)
    ax.set_xlim(-100, 150)
    ax.set_ylim(3.52, -0.52)
    ax.set_xticks([-100, -50, 0, 50, 100, 150])
    ax.set_yticks(ypos)
    ax.set_yticklabels(e_groups)
    for t in ax.get_yticklabels():
        t.set_multialignment('center')
    for s in ('left', 'top', 'right'):
        ax.spines[s].set_visible(False)
    ax.spines['bottom'].set_linewidth(0.9)
    ax.tick_params(axis='y', length=0, labelsize=5, pad=3)
    ax.tick_params(axis='x', labelsize=5, length=2, width=0.8, pad=1)
    ax.set_title(title, fontsize=6.5, pad=14)
    ax.set_xlabel(xlab, fontsize=4.8, labelpad=2, linespacing=1.4)


axE1 = px_ax(317, 794, 443, 878)
dpi_panel(axE1, e_unc_down, e_unc_up, 'Uncorrected',
          'Differentially Produced Isotopomers (DPIs)\n' + r'($\it{P}$ < 0.05)')
axE2 = px_ax(492, 794, 621, 878)
dpi_panel(axE2, e_cor_down, e_cor_up, 'Multiple Testing Corrected',
          'Differentially Produced Isotopomers (DPIs)\n(Benjamini-Hochberg FDR < 0.05)')
ftext(302, 791, 'DPI by:', fontsize=5, fontweight='bold', ha='center', va='center')
ftext(477, 791, 'DPI by:', fontsize=5, fontweight='bold', ha='center', va='center')
ftext(260, 788, 'E', fontsize=12, va='center')
fig.legend([mpatches.Patch(color=e_pal[k]) for k in e_pal], list(e_pal), loc='upper left',
           bbox_to_anchor=fpt(617, 804), fontsize=5, frameon=False, handlelength=2.3, handleheight=0.8,
           handletextpad=0.4, labelspacing=0.1, borderpad=0, borderaxespad=0)

fig.savefig('out.png', dpi=100)
